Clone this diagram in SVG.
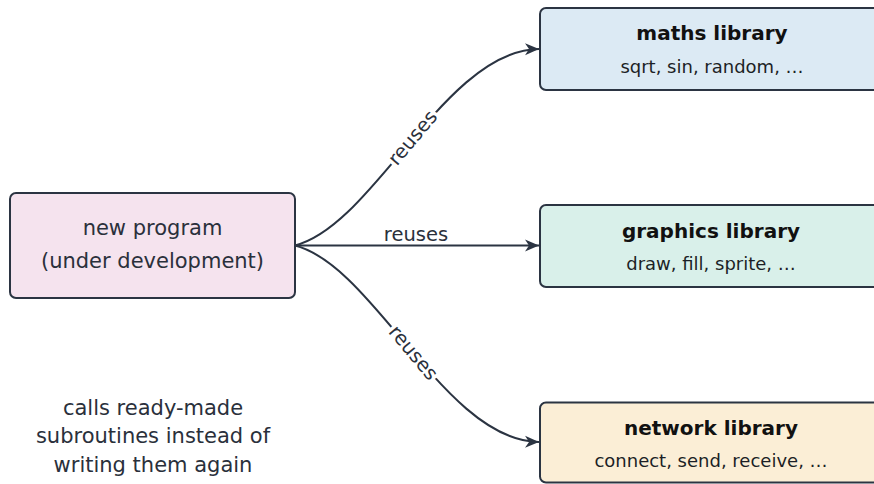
<svg xmlns="http://www.w3.org/2000/svg" width="874" height="484" viewBox="0 0 874 484">
<style>
  .box { stroke: #2b3442; stroke-width: 2; }
  .t { font-family: "DejaVu Sans", sans-serif; fill: #2a303b; text-anchor: middle; }
  .main { font-size: 21px; }
  .title { font-size: 20px; font-weight: bold; fill: #111; }
  .sub { font-size: 18px; fill: #1c1f26; }
  .lbl { font-size: 19.5px; fill: #2a303b; }
  .edge { fill: none; stroke: #2b3442; stroke-width: 2; }
  .halo { paint-order: stroke; stroke: #ffffff; stroke-width: 7px; stroke-linejoin: round; }
</style>
<defs>
  <marker id="arr" markerUnits="userSpaceOnUse" markerWidth="16" markerHeight="14" refX="14" refY="7" orient="auto">
    <path d="M0,1 L14,7 L0,13 L4,7 Z" fill="#2b3442"/>
  </marker>
</defs>
<rect width="874" height="484" fill="#ffffff"/>
<g id="connectors">
  <path class="edge" d="M295,245.5 C375,225 445,50 539,49" marker-end="url(#arr)"/>
  <path class="edge" d="M295,245.5 L539,245.5" marker-end="url(#arr)"/>
  <path class="edge" d="M295,245.5 C375,266 445,441 539,442" marker-end="url(#arr)"/>
  <text class="t lbl halo" transform="translate(413,138) rotate(-50)" dy="6">reuses</text>
  <text class="t lbl" x="416" y="241">reuses</text>
  <text class="t lbl halo" transform="translate(413,353) rotate(50)" dy="6">reuses</text>
</g>
<g id="new-program">
  <rect class="box" x="10" y="193" width="285" height="105" rx="6" fill="#f5e3ee"/>
  <text class="t main" x="152.5" y="235">new program</text>
  <text class="t main" x="152.5" y="268">(under development)</text>
</g>
<g id="maths-library">
  <rect class="box" x="540" y="8" width="344" height="82" rx="6" fill="#dceaf4"/>
  <text class="t title" x="712" y="40">maths library</text>
  <text class="t sub" x="712" y="73">sqrt, sin, random, …</text>
</g>
<g id="graphics-library">
  <rect class="box" x="540" y="205" width="344" height="82" rx="6" fill="#d9f0ea"/>
  <text class="t title" x="711" y="238">graphics library</text>
  <text class="t sub" x="711" y="270">draw, fill, sprite, …</text>
</g>
<g id="network-library">
  <rect class="box" x="540" y="402.5" width="344" height="80" rx="6" fill="#fbeed6"/>
  <text class="t title" x="711" y="435">network library</text>
  <text class="t sub" x="711" y="467">connect, send, receive, …</text>
</g>
<g id="note">
  <text class="t main" x="153" y="415">calls ready-made</text>
  <text class="t main" x="153" y="443">subroutines instead of</text>
  <text class="t main" x="153" y="472">writing them again</text>
</g>
</svg>
